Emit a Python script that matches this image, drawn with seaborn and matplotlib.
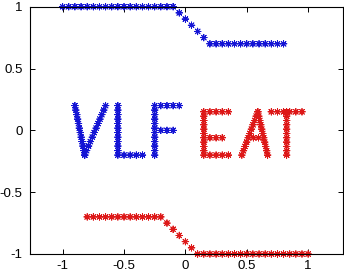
import matplotlib
matplotlib.use("Agg")
import matplotlib.pyplot as plt
import seaborn as sns
import pandas as pd

# ---- curves ----
top_x = [-1.0, -0.95, -0.9, -0.85, -0.8, -0.75, -0.7, -0.65, -0.6, -0.55, -0.5, -0.45, -0.4,
         -0.35, -0.3, -0.25, -0.2, -0.15, -0.1, -0.05, 0.0, 0.05, 0.1, 0.15, 0.2, 0.25, 0.3,
         0.35, 0.4, 0.45, 0.5, 0.55, 0.6, 0.65, 0.7, 0.75, 0.8]
top_y = [1.0, 1.0, 1.0, 1.0, 1.0, 1.0, 1.0, 1.0, 1.0, 1.0, 1.0, 1.0, 1.0,
         1.0, 1.0, 1.0, 1.0, 1.0, 1.0, 0.95, 0.9, 0.85, 0.8, 0.75, 0.7, 0.7, 0.7,
         0.7, 0.7, 0.7, 0.7, 0.7, 0.7, 0.7, 0.7, 0.7, 0.7]

bot_x = [-0.8, -0.75, -0.7, -0.65, -0.6, -0.55, -0.5, -0.45, -0.4, -0.35, -0.3, -0.25, -0.2,
         -0.15, -0.1, -0.05, 0.0, 0.05, 0.1, 0.15, 0.2, 0.25, 0.3, 0.35, 0.4, 0.45, 0.5,
         0.55, 0.6, 0.65, 0.7, 0.75, 0.8, 0.85, 0.9, 0.95, 1.0]
bot_y = [-0.7, -0.7, -0.7, -0.7, -0.7, -0.7, -0.7, -0.7, -0.7, -0.7, -0.7, -0.7, -0.7,
         -0.75, -0.8, -0.85, -0.9, -0.95, -1.0, -1.0, -1.0, -1.0, -1.0, -1.0, -1.0, -1.0, -1.0,
         -1.0, -1.0, -1.0, -1.0, -1.0, -1.0, -1.0, -1.0, -1.0, -1.0]

# ---- letters "VLF" (blue) ----
vlf_col = [0.2, 0.164, 0.127, 0.091, 0.055, 0.018, -0.018, -0.055, -0.091, -0.127, -0.164, -0.2]
v_left_x = [-0.9, -0.893, -0.885, -0.878, -0.871, -0.864, -0.856, -0.849, -0.842, -0.835, -0.827, -0.82]
v_right_x = [-0.65, -0.665, -0.681, -0.696, -0.712, -0.727, -0.743, -0.758, -0.774, -0.789, -0.805, -0.82]
l_vert_x = [-0.55] * 12
l_bar_x = [-0.5, -0.45, -0.4, -0.35]
l_bar_y = [-0.2, -0.2, -0.2, -0.2]
f_vert_x = [-0.25] * 12
f_top_x = [-0.2, -0.15, -0.1, -0.05]
f_top_y = [0.2, 0.2, 0.2, 0.2]
f_mid_x = [-0.2, -0.15, -0.1]
f_mid_y = [0.0, 0.0, 0.0]

# ---- letters "EAT" (red) ----
eat_col = [0.15, 0.115, 0.08, 0.045, 0.01, -0.025, -0.06, -0.095, -0.13, -0.165, -0.2]
e_vert_x = [0.15] * 11
e_top_x = [0.2, 0.25, 0.3, 0.35]
e_top_y = [0.15, 0.15, 0.15, 0.15]
e_mid_x = [0.2, 0.25, 0.3]
e_mid_y = [-0.06, -0.06, -0.06]
e_bot_x = [0.2, 0.25, 0.3, 0.35]
e_bot_y = [-0.2, -0.2, -0.2, -0.2]
a_left_x = [0.59, 0.577, 0.564, 0.551, 0.538, 0.525, 0.512, 0.499, 0.486, 0.473, 0.46]
a_right_x = [0.59, 0.598, 0.606, 0.614, 0.622, 0.63, 0.638, 0.646, 0.654, 0.662, 0.67]
a_bar_x = [0.554, 0.596]
a_bar_y = [-0.06, -0.06]
t_bar_x = [0.7, 0.75, 0.8, 0.85, 0.9, 0.95]
t_bar_y = [0.15, 0.15, 0.15, 0.15, 0.15, 0.15]
t_vert_x = [0.825] * 11

tick_vals = [-1, -0.5, 0, 0.5, 1]
tick_labels = ["-1", "-0.5", "0", "0.5", "1"]

blue_x = (top_x + v_left_x + v_right_x + l_vert_x + l_bar_x + f_vert_x + f_top_x + f_mid_x)
blue_y = (top_y + vlf_col + vlf_col + vlf_col + l_bar_y + vlf_col + f_top_y + f_mid_y)
red_x = (bot_x + e_vert_x + e_top_x + e_mid_x + e_bot_x + a_left_x + a_right_x + a_bar_x
         + t_bar_x + t_vert_x)
red_y = (bot_y + eat_col + e_top_y + e_mid_y + e_bot_y + eat_col + eat_col + a_bar_y
         + t_bar_y + eat_col)

df = pd.DataFrame({
    "x": blue_x + red_x,
    "y": blue_y + red_y,
    "g": ["b"] * len(blue_x) + ["r"] * len(red_x),
})

sns.set_theme(style="white")
plt.rcParams["font.family"] = ["Liberation Sans", "DejaVu Sans"]
plt.rcParams["axes.unicode_minus"] = False

fig = plt.figure(figsize=(3.44, 2.72), dpi=100)
ax = fig.add_axes([29.5 / 344, (272 - 254) / 272, (342.5 - 29.5) / 344, (254 - 6.7) / 272])

sns.scatterplot(data=df, x="x", y="y", hue="g",
                palette={"b": "#1414d4", "r": "#dd1818"},
                marker=(8, 2, 0), s=22, linewidth=0.65, legend=False, ax=ax, clip_on=False)

ax.set_xlim(-1.27, 1.28)
ax.set_ylim(-1, 1)
ax.set_xticks(tick_vals)
ax.set_xticklabels(tick_labels)
ax.set_yticks(tick_vals)
ax.set_yticklabels(tick_labels)
ax.set_xlabel("")
ax.set_ylabel("")
for sp in ax.spines.values():
    sp.set_visible(True)
    sp.set_color("black")
    sp.set_linewidth(0.8)
ax.tick_params(direction="in", length=3.5, width=0.7, color="black",
               top=True, right=True, bottom=True, left=True,
               labelsize=9.5, labelcolor="black", pad=4)
ax.tick_params(axis="y", pad=5)
ax.set_facecolor("white")
fig.patch.set_facecolor("white")

fig.savefig("out.png", dpi=100)
